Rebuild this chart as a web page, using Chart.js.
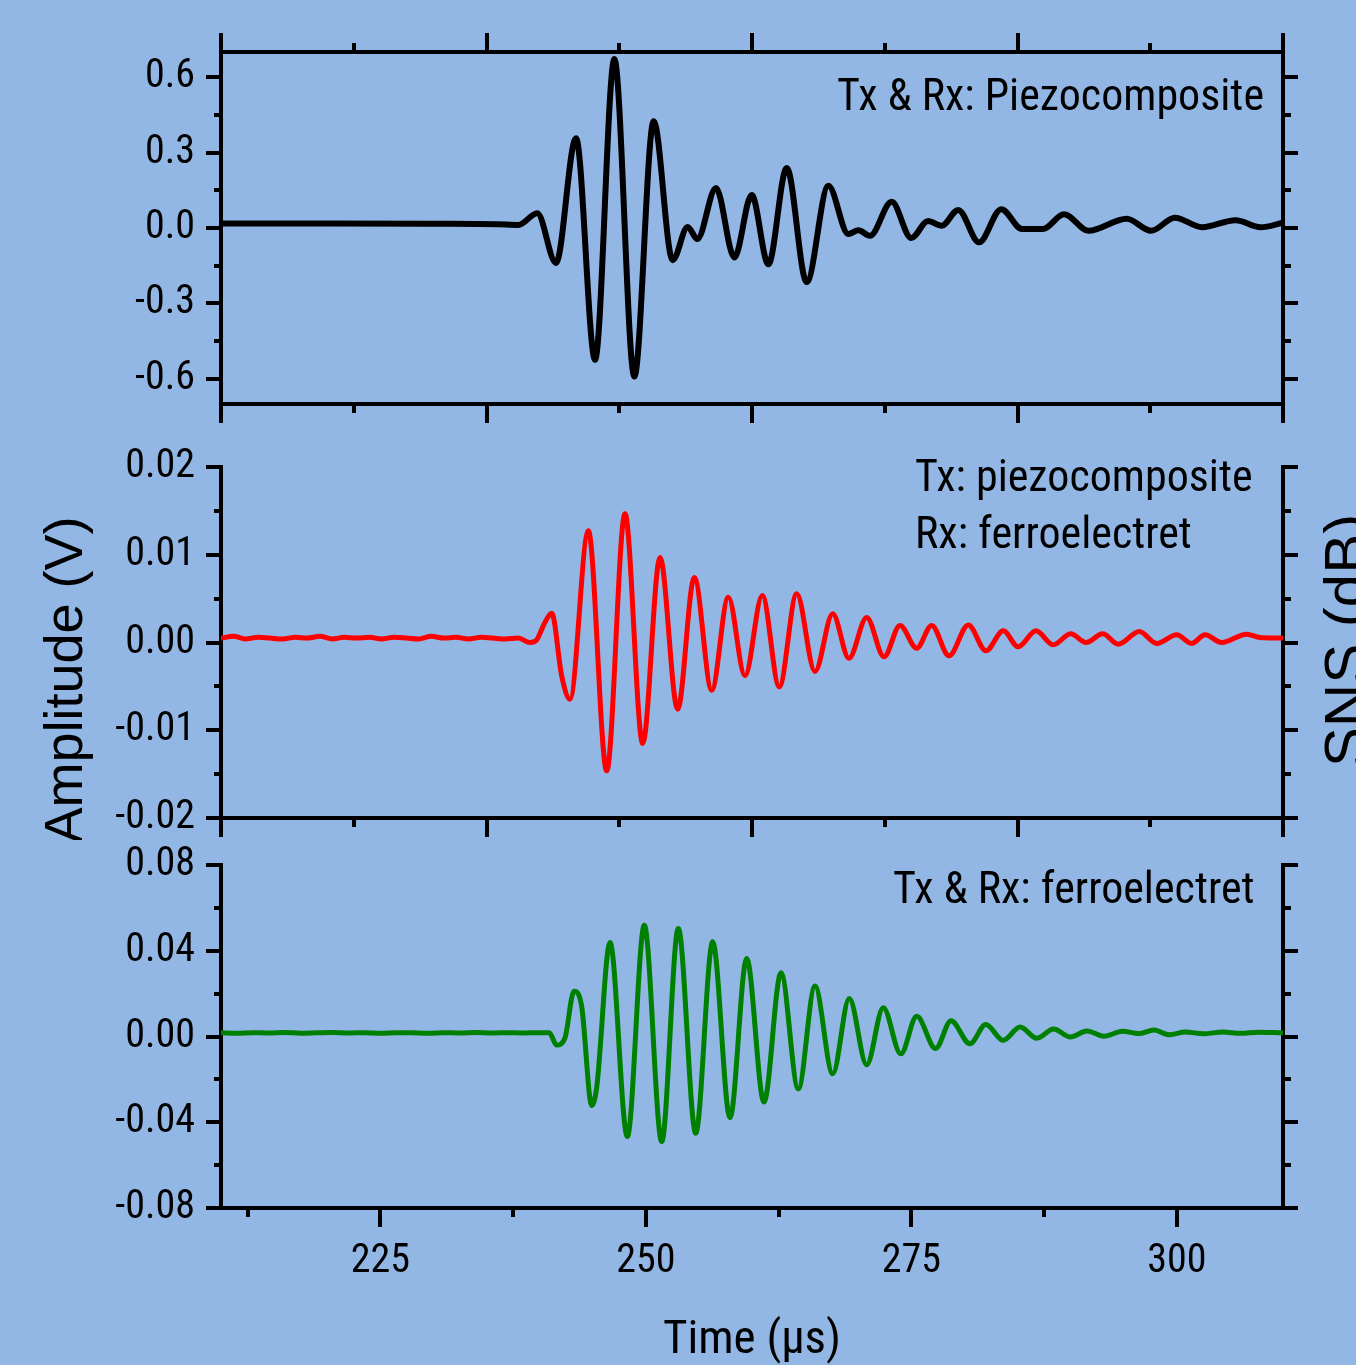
<!DOCTYPE html>
<html><head><meta charset="utf-8">
<script src="https://cdn.jsdelivr.net/npm/chart.js@4/dist/chart.umd.min.js"></script>
<style>
html,body{margin:0;padding:0;background:#93b7e4;overflow:hidden;width:1356px;height:1365px;}
canvas{position:absolute;left:0;}
</style></head><body>
<canvas id="cTop" width="1356" height="435" style="top:0px"></canvas>
<canvas id="cMid" width="1356" height="405" style="top:435px"></canvas>
<canvas id="cBot" width="1356" height="525" style="top:840px"></canvas>
<script>
// ---------- data ----------
const xMin = 210, xMax = 310;

// frame ticks (top & middle panels, unlabeled)
const frameTicksX = [210, 222.5, 235, 247.5, 260, 272.5, 285, 297.5, 310];
const frameMajorX = [210, 235, 260, 285, 310];
// time axis (bottom panel)
const timeTicks = [212.5, 225, 237.5, 250, 262.5, 275, 287.5, 300];
const timeMajor = [225, 250, 275, 300];
const timeLabels = ['225', '250', '275', '300'];

const topYTicks = [-0.6, -0.45, -0.3, -0.15, 0, 0.15, 0.3, 0.45, 0.6];
const topYMajor = [-0.6, -0.3, 0, 0.3, 0.6];
const topYLabels = ['-0.6', '-0.3', '0.0', '0.3', '0.6'];

const midYTicks = [-0.02, -0.015, -0.01, -0.005, 0, 0.005, 0.01, 0.015, 0.02];
const midYMajor = [-0.02, -0.01, 0, 0.01, 0.02];
const midYLabels = ['-0.02', '-0.01', '0.00', '0.01', '0.02'];

const botYTicks = [-0.08, -0.06, -0.04, -0.02, 0, 0.02, 0.04, 0.06, 0.08];
const botYMajor = [-0.08, -0.04, 0, 0.04, 0.08];
const botYLabels = ['-0.08', '-0.04', '0.00', '0.04', '0.08'];

// Tx & Rx: Piezocomposite (black)
const topTime = [210, 220, 230, 236, 238.0, 239.78, 241.54, 243.43, 245.22, 247.04, 248.92, 250.74, 252.53, 253.94, 254.85, 256.61, 258.34, 259.97, 261.54, 263.27, 265.15, 267.19, 269.07, 270.01, 271.11, 273.15, 275.0, 276.57, 277.87, 279.42, 281.38, 283.47, 285.42, 287.40, 289.38, 291.67, 295.29, 297.57, 299.82, 302.37, 305.54, 307.90, 310];
const topAmp = [0.018, 0.018, 0.017, 0.015, 0.012, 0.059, -0.139, 0.357, -0.524, 0.672, -0.591, 0.425, -0.128, 0.004, -0.044, 0.159, -0.117, 0.131, -0.144, 0.239, -0.215, 0.168, -0.024, -0.009, -0.031, 0.104, -0.040, 0.028, 0.009, 0.072, -0.057, 0.075, -0.004, -0.004, 0.055, -0.011, 0.037, -0.011, 0.041, 0.003, 0.031, 0.003, 0.021];

// Tx: piezocomposite, Rx: ferroelectret (red)
const midTime = [210, 211.2, 212.3, 213.5, 214.6, 215.8, 217, 218.1, 219.3, 220.5, 221.6, 222.8, 224, 225.1, 226.3, 227.5, 228.6, 229.8, 231, 232.1, 233.3, 234.5, 235.6, 236.8, 238, 239.1, 239.73, 240.2, 240.55, 241.14, 242.08, 242.86, 244.59, 246.32, 248.04, 249.71, 251.34, 253.00, 254.57, 256.21, 257.77, 259.34, 260.97, 262.57, 264.21, 265.93, 267.60, 269.13, 270.80, 272.43, 273.94, 275.51, 276.92, 278.55, 280.37, 282.03, 283.66, 285.07, 286.74, 288.37, 290.01, 291.45, 293.02, 294.49, 296.47, 298.11, 299.99, 301.40, 302.66, 304.23, 306.58, 307.84, 309.88];
const midAmp = [0.0005, 0.0007, 0.0004, 0.0006, 0.0005, 0.0004, 0.0006, 0.0005, 0.0007, 0.0004, 0.0006, 0.0005, 0.0006, 0.0004, 0.0006, 0.0005, 0.0004, 0.0007, 0.0005, 0.0006, 0.0004, 0.0006, 0.0005, 0.0004, 0.0005, 0.0000, 0.0003, 0.0015, 0.0024, 0.00334, -0.0038, -0.00646, 0.01273, -0.01462, 0.01467, -0.01151, 0.00969, -0.0076, 0.00741, -0.00543, 0.00517, -0.0038, 0.00536, -0.00505, 0.00555, -0.0033, 0.00327, -0.00179, 0.00285, -0.00163, 0.00194, -0.00065, 0.00194, -0.00152, 0.0020, -0.00095, 0.00133, -0.00049, 0.00133, -0.00026, 0.00099, 0.0, 0.00099, -0.0002, 0.00125, -0.0001, 0.00088, -0.0001, 0.00088, 0.0, 0.00095, 0.00057, 0.0005];

// Tx & Rx: ferroelectret (green)
const botTime = [210, 211.5, 213, 214.5, 216, 217.5, 219, 220.5, 222, 223.5, 225, 226.5, 228, 229.5, 231, 232.5, 234, 235.5, 237, 238.5, 239.5, 240.91, 241.61, 242.39, 243.24, 243.96, 244.91, 245.37, 246.63, 248.26, 249.86, 251.50, 253.06, 254.70, 256.30, 257.93, 259.50, 261.13, 262.73, 264.36, 265.93, 267.60, 269.16, 270.80, 272.36, 274.01, 275.51, 277.29, 278.74, 280.52, 282.02, 283.66, 285.24, 286.82, 288.40, 289.97, 291.54, 293.13, 294.90, 296.4, 297.85, 299.3, 300.81, 302.5, 304.35, 306.0, 307.70, 309.87];
const botAmp = [0.0017, 0.0015, 0.0018, 0.0016, 0.0019, 0.0015, 0.0017, 0.0019, 0.0016, 0.0018, 0.0015, 0.0018, 0.0017, 0.0015, 0.0018, 0.0016, 0.0019, 0.0016, 0.0018, 0.0016, 0.0018, 0.0017, -0.0040, -0.0006, 0.0211, 0.0141, -0.0322, -0.0240, 0.0439, -0.0467, 0.0519, -0.0490, 0.0504, -0.0451, 0.0442, -0.0379, 0.0364, -0.0306, 0.0297, -0.0244, 0.0235, -0.0174, 0.0177, -0.0132, 0.0134, -0.0081, 0.0094, -0.0056, 0.0073, -0.0034, 0.0056, -0.0018, 0.0044, -0.0008, 0.0035, -0.0002, 0.0026, 0.0001, 0.0025, 0.0014, 0.0030, 0.0008, 0.0021, 0.0013, 0.0021, 0.0015, 0.0020, 0.0017];

// ---------- helpers ----------
const INK = '#000000';
const NARROW = "'Liberation Sans Narrow', 'Roboto Condensed', Roboto, sans-serif";
const REGULAR = "'Liberation Sans', Arial, sans-serif";
const near = (a, b) => Math.abs(a - b) < 1e-9;
const isMajor = (v, majors) => majors.some(m => near(m, v));
const labelOf = (v, majors, labels) => { const i = majors.findIndex(m => near(m, v)); return i >= 0 ? labels[i] : ''; };
const series = (times, amps) => times.map((t, i) => ({x: t, y: amps[i]}));

function axis(o) {
  const outerFirst = o.position === 'left' || o.position === 'top';
  return {
    type: 'linear', axis: o.axis, position: o.position, min: o.min, max: o.max, bounds: 'data',
    afterBuildTicks: s => { s.ticks = o.ticks.map(v => ({value: v})); },
    afterFit: s => {
      if (o.axis === 'y') s.width = o.size; else s.height = o.size;
      s.paddingTop = 0; s.paddingBottom = 0; s.paddingLeft = 0; s.paddingRight = 0;
    },
    border: {display: true, width: 4, color: INK},
    grid: {
      display: true, drawOnChartArea: false, drawTicks: true,
      tickLength: o.tickLen, tickWidth: 4, tickColor: INK, color: INK, lineWidth: 4,
      tickBorderDash: c => {
        if (!c.tick || isMajor(c.tick.value, o.majors)) return [];
        const drawn = o.tickLen - 2;
        return outerFirst ? [0, drawn - o.minorLen, o.minorLen, 1000] : [o.minorLen, 1000];
      }
    },
    ticks: {
      display: true, padding: o.padding || 0, color: INK,
      font: {family: NARROW, size: 40}, autoSkip: false, maxRotation: 0, minRotation: 0,
      callback: v => o.labels ? labelOf(v, o.majors, o.labels) : ''
    },
    title: o.title || {display: false}
  };
}

const textPlugin = {
  id: 'panelText',
  afterDraw(chart, args, opts) {
    const {ctx, chartArea} = chart;
    (opts.items || []).forEach(it => {
      const x = (it.from === 'right' ? chartArea.right : chartArea.left) + it.dx;
      const y = chartArea.top + it.dy;
      ctx.save();
      ctx.font = it.font;
      ctx.fillStyle = INK;
      ctx.textAlign = it.align;
      ctx.textBaseline = 'alphabetic';
      ctx.translate(x, y);
      if (it.rotate) ctx.rotate(it.rotate);
      ctx.fillText(it.text, 0, 0);
      ctx.restore();
    });
  }
};

function baseOptions(padTop, scales, items) {
  return {
    responsive: false, animation: false, devicePixelRatio: 1,
    layout: {padding: {top: padTop, left: 0, right: 0, bottom: 0}, autoPadding: false},
    plugins: {legend: {display: false}, tooltip: {enabled: false}, panelText: {items}},
    elements: {point: {radius: 0}},
    scales
  };
}
function lineSet(data, color, width) {
  return {data, borderColor: color, backgroundColor: color, borderWidth: width, pointRadius: 0,
          borderJoinStyle: 'round', borderCapStyle: 'round',
          cubicInterpolationMode: 'monotone', fill: false, xAxisID: 'x', yAxisID: 'y'};
}
const ANNOT = `44px ${NARROW}`;

// ---------- top panel ----------
new Chart(document.getElementById('cTop'), {
  type: 'line',
  data: {datasets: [lineSet(series(topTime, topAmp), '#000000', 6)]},
  options: baseOptions(0, {
    x: axis({axis: 'x', position: 'bottom', min: xMin, max: xMax, ticks: frameTicksX, majors: frameMajorX, size: 31, tickLen: 19, minorLen: 7}),
    xTop: axis({axis: 'x', position: 'top', min: xMin, max: xMax, ticks: frameTicksX, majors: frameMajorX, size: 52, tickLen: 19, minorLen: 7}),
    y: axis({axis: 'y', position: 'left', min: -0.7, max: 0.7, ticks: topYTicks, majors: topYMajor, labels: topYLabels, size: 221, tickLen: 15, minorLen: 5, padding: 11}),
    yRight: axis({axis: 'y', position: 'right', min: -0.7, max: 0.7, ticks: topYTicks, majors: topYMajor, size: 73, tickLen: 15, minorLen: 6})
  }, [
    {text: 'Tx & Rx: Piezocomposite', from: 'right', dx: -19, dy: 57.5, align: 'right', font: ANNOT}
  ]),
  plugins: [textPlugin]
});

// ---------- middle panel ----------
new Chart(document.getElementById('cMid'), {
  type: 'line',
  data: {datasets: [lineSet(series(midTime, midAmp), '#ff0000', 5)]},
  options: baseOptions(32, {
    x: axis({axis: 'x', position: 'bottom', min: xMin, max: xMax, ticks: frameTicksX, majors: frameMajorX, size: 22, tickLen: 19, minorLen: 7}),
    y: axis({axis: 'y', position: 'left', min: -0.02, max: 0.02, ticks: midYTicks, majors: midYMajor, labels: midYLabels, size: 221, tickLen: 15, minorLen: 5, padding: 11}),
    yRight: axis({axis: 'y', position: 'right', min: -0.02, max: 0.02, ticks: midYTicks, majors: midYMajor, size: 73, tickLen: 15, minorLen: 6})
  }, [
    {text: 'Tx: piezocomposite', from: 'left', dx: 694, dy: 23.7, align: 'left', font: ANNOT},
    {text: 'Rx: ferroelectret', from: 'left', dx: 694, dy: 81, align: 'left', font: ANNOT},
    {text: 'Amplitude (V)', from: 'left', dx: -139, dy: 213, align: 'center', font: `54px ${REGULAR}`, rotate: -Math.PI / 2},
    {text: 'SNS (dB)', from: 'right', dx: 83, dy: 173.5, align: 'center', font: `60px ${REGULAR}`, rotate: -Math.PI / 2}
  ]),
  plugins: [textPlugin]
});

// ---------- bottom panel ----------
new Chart(document.getElementById('cBot'), {
  type: 'line',
  data: {datasets: [lineSet(series(botTime, botAmp), '#008000', 5)]},
  options: baseOptions(25, {
    x: axis({axis: 'x', position: 'bottom', min: xMin, max: xMax, ticks: timeTicks, majors: timeMajor, labels: timeLabels, size: 157, tickLen: 19, minorLen: 7, padding: 11,
      title: {display: true, text: 'Time (µs)', color: INK, font: {family: NARROW, size: 47, lineHeight: 1.0}, padding: 0}}),
    y: axis({axis: 'y', position: 'left', min: -0.08, max: 0.08, ticks: botYTicks, majors: botYMajor, labels: botYLabels, size: 221, tickLen: 15, minorLen: 5, padding: 11}),
    yRight: axis({axis: 'y', position: 'right', min: -0.08, max: 0.08, ticks: botYTicks, majors: botYMajor, size: 73, tickLen: 15, minorLen: 6})
  }, [
    {text: 'Tx & Rx: ferroelectret', from: 'left', dx: 672, dy: 38, align: 'left', font: ANNOT}
  ]),
  plugins: [textPlugin]
});
</script>
</body></html>
